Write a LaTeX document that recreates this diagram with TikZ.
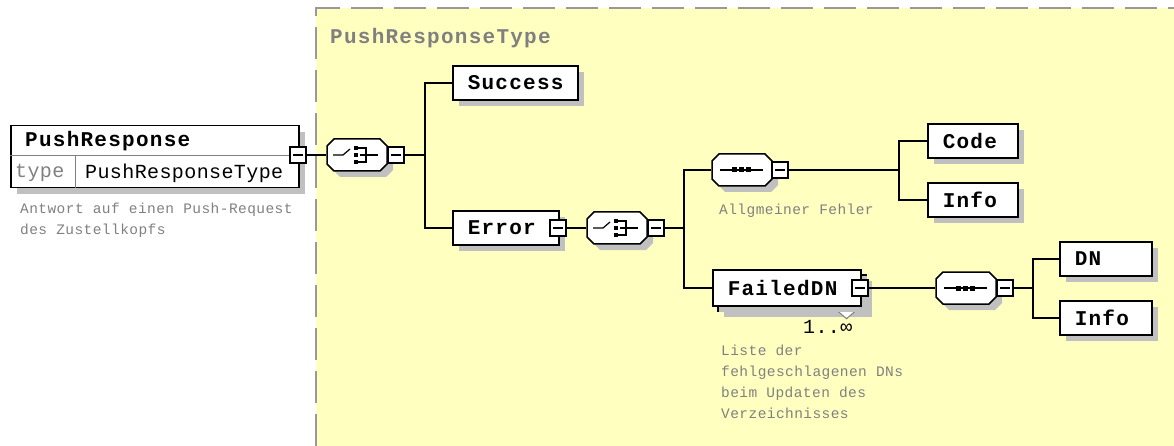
\documentclass[tikz,border=0pt]{standalone}
\usepackage{fontspec}
\usetikzlibrary{shadows, positioning}
\newfontfamily\namefont[LetterSpace=6]{Liberation Mono}
\newfontfamily\typefont[LetterSpace=2]{Liberation Mono}
\newfontfamily\notefont[LetterSpace=3]{Liberation Mono}
\definecolor{typebg}{HTML}{FFFFC0}
\definecolor{dashgray}{HTML}{999999}
\definecolor{notegray}{HTML}{808080}
\definecolor{shadowgray}{HTML}{C0C0C0}
\tikzset{
    shade/.style={drop shadow={shadow xshift=6pt, shadow yshift=-6pt, fill=shadowgray, opacity=1}},
    element/.style={
        rectangle, draw=black, line width=1.5pt, fill=white,
        minimum height=34pt, inner xsep=15pt, inner ysep=0pt, align=left, anchor=west,
        font=\namefont\bfseries\fontsize{21}{24}\selectfont, shade
    },
    collapse/.style={
        rectangle, draw=black, line width=1.2pt, fill=white,
        minimum size=16pt, inner sep=0pt,
        path picture={\draw[line width=1.2pt] ([xshift=3pt]path picture bounding box.west) -- ([xshift=-3pt]path picture bounding box.east);}
    },
    compositor/.style={rectangle, minimum width=61pt, minimum height=32pt, inner sep=0pt},
    wire/.style={draw=black, line width=1.3pt},
    label/.style={inner sep=0pt, anchor=west},
    note/.style={inner sep=0pt, anchor=north west, align=left, text=notegray,
        font=\notefont\fontsize{14.5}{21}\selectfont},
    pics/octagon/.style={code={
        \fill[shadowgray, shift={(6,6)}] (-23,-16) -- (23,-16) -- (30,-9) -- (30,9) -- (23,16) -- (-23,16) -- (-30,9) -- (-30,-9) -- cycle;
        \draw[line width=1.5pt, fill=white] (-23,-16) -- (23,-16) -- (30,-9) -- (30,9) -- (23,16) -- (-23,16) -- (-30,9) -- (-30,-9) -- cycle;
    }},
    pics/choiceicon/.style={code={
        \pic {octagon};
        \draw[line width=1.2pt] (-24,0) -- (-14,0) -- (-7,-6);
        \foreach \sy in {-7,0,7} \fill (-3,\sy-2) rectangle (1,\sy+2);
        \draw[line width=1.2pt] (1,-7) -- (9,-7) -- (9,7) -- (1,7);
        \draw[line width=1.2pt] (3,0) -- (21,0);
    }},
    pics/seqicon/.style={code={
        \pic {octagon};
        \draw[line width=1.2pt] (-22,0) -- (21,0);
        \foreach \sx in {-8,-1,6} \fill (\sx-2.5,-2.5) rectangle (\sx+2.5,2.5);
    }}
}
\begin{document}
\begin{tikzpicture}[x=1pt, y=-1pt]
\useasboundingbox (0,0) rectangle (1174,446);

% Complex type area
\fill[typebg] (316,8) rectangle (1174,446);
\draw[dashgray, line width=2pt, dash pattern=on 32pt off 11pt] (316,446) -- (316,8) -- (1174,8);
\node[label, text=notegray, font=\namefont\bfseries\fontsize{21}{24}\selectfont] (typetitle) at (330,38) {PushResponseType};

% Root element
\node[rectangle, draw=black, line width=1.5pt, fill=white, minimum width=288pt, minimum height=62pt,
      inner sep=0pt, anchor=north west, shade] (pushresponse) at (10,125) {};
\draw[notegray, line width=1pt] ([yshift=-31pt]pushresponse.north west) -- ([yshift=-31pt]pushresponse.north east);
\draw[notegray, line width=1pt] ([xshift=65pt, yshift=-31pt]pushresponse.north west) -- ([xshift=65pt]pushresponse.south west);
\node[label, font=\namefont\bfseries\fontsize{21}{24}\selectfont] (prname) at (25,141) {PushResponse};
\node[label, text=notegray, font=\typefont\fontsize{20}{24}\selectfont] (prtypekey) at (15,173) {type};
\node[label, font=\typefont\fontsize{20}{24}\selectfont] (prtype) at (85,173) {PushResponseType};
\node[note] (prnote) at (20,203) {Antwort auf einen Push-Request\\des Zustellkopfs};
\node[collapse] (m0) at (298,155) {};

% Outer choice
\node[compositor] (choice1) at (357,155) {};
\pic at (choice1) {choiceicon};
\node[collapse] (m1) at (396,155) {};
\coordinate (fork1) at (425,155);

\node[element, text width=95pt] (success) at (452,83) {Success};
\node[element, text width=76pt] (error) at (452,228) {Error};
\node[collapse] (m2) at (558,228) {};

% Inner choice
\node[compositor] (choice2) at (617,228) {};
\pic at (choice2) {choiceicon};
\node[collapse] (m3) at (656,228) {};
\coordinate (fork2) at (684,228);

% General error sequence
\node[compositor] (seq1) at (742,170) {};
\pic at (seq1) {seqicon};
\node[collapse] (m4) at (780,170) {};
\node[note] (seq1note) at (719,204) {Allgmeiner Fehler};
\coordinate (fork3) at (899,170);
\node[element, text width=60pt] (code) at (927,141) {Code};
\node[element, text width=60pt] (info1) at (927,200) {Info};

% Failed DNs
\node[rectangle, draw=black, line width=1.5pt, fill=white, minimum width=148pt, minimum height=36pt,
      anchor=west, shade] (faileddnback) at (717,293) {};
\draw[notegray, line width=1pt, fill=white] ([xshift=-28pt]faileddnback.south east) -- ++(8,7) -- ++(8,-7);
\node[element, text width=118pt, minimum height=36pt, drop shadow={opacity=0}] (faileddn) at (712,288) {FailedDN};
\node[collapse] (m5) at (860,288) {};
\node[label, font=\typefont\fontsize{20}{24}\selectfont] (faileddnocc) at (803,327) {1..∞};
\node[note] (faileddnnote) at (721,345) {Liste der\\fehlgeschlagenen DNs\\beim Updaten des\\Verzeichnisses};

\node[compositor] (seq2) at (966,288) {};
\pic at (seq2) {seqicon};
\node[collapse] (m6) at (1005,288) {};
\coordinate (fork4) at (1033,288);
\node[element, text width=62pt] (dn) at (1059,259) {DN};
\node[element, text width=62pt] (info2) at (1059,318) {Info};

% Connections
\draw[wire] (m0) -- (choice1);
\draw[wire] (m1) -- (fork1) |- (success);
\draw[wire] (fork1) |- (error);
\draw[wire] (m2) -- (choice2);
\draw[wire] (m3) -- (fork2) |- (seq1);
\draw[wire] (fork2) |- (faileddn);
\draw[wire] (m4) -- (fork3) |- (code);
\draw[wire] (fork3) |- (info1);
\draw[wire] (m5) -- (seq2);
\draw[wire] (m6) -- (fork4) |- (dn);
\draw[wire] (fork4) |- (info2);

\end{tikzpicture}
\end{document}
